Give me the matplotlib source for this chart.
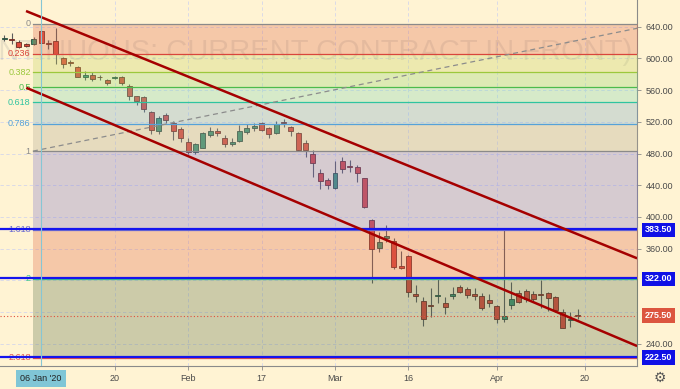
import matplotlib
matplotlib.use("Agg")
import matplotlib.pyplot as plt
import numpy as np

plt.rcParams['font.family'] = ['Liberation Sans', 'DejaVu Sans']

# daily bars, Dec 27 '19 .. Apr 17 '20 (bar index = trading day)
opens  = [624, 625, 621, 618, 618, 635, 619, 622, 601, 595, 589, 577, 579, 577, 573, 575, 576, 565, 552, 551,
          532, 508, 528, 519, 511, 495, 481.5, 487, 503, 509, 500, 492, 496, 507.5, 512, 518, 512, 506, 519.5, 513,
          505.5, 493.5, 480, 455, 446, 436, 470.5, 464, 462.5, 448.7, 396, 360.5, 373, 369, 338, 351, 303, 294, 289, 300,
          291, 300, 311, 309.5, 302.7, 300.6, 295, 287, 271, 288.5, 304.5, 306.5, 302.3, 302.3, 303.6, 299.3, 279.6, 269.5, 276.5]
highs  = [629, 632, 623, 620, 627, 637, 623, 638, 602, 598, 591, 584, 583, 579, 574, 578, 578, 568, 553, 553,
          534, 527, 531, 521, 513, 499, 493.5, 507.5, 514, 512, 503, 500, 516, 517, 518.5, 520, 514, 521, 523.5, 515,
          507.5, 497, 484, 460, 449, 470, 476, 472, 465.5, 449.5, 397, 381, 390, 373, 357.5, 352, 314, 298.5, 310, 324,
          299, 311, 314.5, 312, 310, 303.6, 302.3, 289, 383, 318, 308, 309, 307, 320, 305.6, 300.2, 283.4, 280.4, 283.5]
lows   = [622, 618, 613, 614, 617, 619, 612, 593, 588, 590, 576, 573, 572, 573, 567, 574, 567, 547, 541, 532,
          505, 505, 518, 497, 495, 480, 480, 486.5, 501, 502, 488.5, 489.5, 495, 504.5, 509, 509, 500, 504.5, 514, 502.5,
          483.5, 476, 451, 435, 435, 435, 455, 457, 444.5, 410.8, 316, 356, 368.7, 334, 334, 299, 293, 262, 274, 292,
          278, 296, 303.6, 298, 295, 282.5, 286.7, 266, 268, 283.5, 291, 293, 293, 284.7, 281.6, 280.4, 259.4, 260.7, 271]
closes = [626, 623, 615, 616, 625, 620, 618, 606, 593, 594, 577, 579, 574, 576, 569, 577, 569, 552, 546, 536,
          510, 525, 522, 508, 500, 482, 492, 505.5, 508, 505.5, 492, 494.5, 508, 512, 514.7, 510, 504, 517, 518.5, 508,
          485, 485, 467.5, 445, 440, 455, 460.5, 462.5, 455, 412, 359, 368, 376, 336.5, 336, 305.6, 300, 271, 287, 301,
          286, 303, 305.5, 302, 300, 284.7, 292, 271, 274.5, 296.5, 293, 296.5, 296.4, 301, 297.3, 282.5, 260, 271.5, 275.5]

# time axis
tick_bars   = [15, 25, 35, 45, 55, 67, 79]
tick_labels = ["20", "Feb", "17", "Mar", "16", "Apr", "20"]
cursor_bar = 5
cursor_label = "06 Jan '20"

# fib retracement 644 -> 483
fib_ratios = [0, 0.236, 0.382, 0.5, 0.618, 0.786, 1, 1.618, 2, 2.618]
fib_names  = ["0", "0.236", "0.382", "0.5", "0.618", "0.786", "1", "1.618", "2", "2.618"]
fib_top = 644.0
fib_bottom = 483.0
fib_levels = [fib_top - r * (fib_top - fib_bottom) for r in fib_ratios]
fib_line_colors = ['#8a8a8a', '#d9453c', '#9cc83c', '#4cbb4c', '#2fc4a0', '#55a2d8', '#8a8a8a', '#6a6ad0', '#3cc48c', '#e0504a']
fib_fill_colors = ['#de6747', '#c6d25e', '#8fd86e', '#7ad8b2', '#73aacc', '#afa690', '#7a71cc', '#de6747', '#58714a']

# horizontal lines + price tags
marked_prices = [383.5, 322.0, 222.5]
last_price = 275.5
axis_prices = [240, 360, 400, 440, 480, 520, 560, 600, 640]

# trend channel (bar, price)
upper_line = [(2.96, 659.8), (86.1, 347.8)]
lower_line = [(3.0, 563.0), (86.1, 237.1)]
base_line = [(3.9, 483.0), (86.1, 638.0)]

bg = '#fff3d3'
up_col, down_col = '#3f9471', '#dc4a3c'
up_edge, down_edge = '#284a3c', '#6a2a22'

fig = plt.figure(figsize=(6.8, 3.89), dpi=100)
fig.patch.set_facecolor(bg)
ax = fig.add_axes([0, 23 / 389, 637 / 680, 366 / 389])
ax.set_facecolor(bg)
ax.set_xlim(-0.58, 86.09)
ax.set_ylim(211.9, 673.7)

# grid
for t in tick_bars:
    ax.axvline(t, color='#d4d6ea', lw=0.6, ls=(0, (4, 3)), zorder=0)
for p in range(240, 680, 40):
    ax.axhline(p, color='#d4d6ea', lw=0.6, ls=(0, (4, 3)), zorder=0)

# watermark
ax.text(0.992, 0.858, "(CONTINUOUS: CURRENT CONTRACT IN FRONT)", transform=ax.transAxes,
        ha='right', va='center', fontsize=21, color='#909090', alpha=0.2, zorder=0.5)

# candles
x = np.arange(len(opens))
for i in x:
    o, h, l, c = opens[i], highs[i], lows[i], closes[i]
    up = c >= o
    ax.vlines(i, l, h, color='#5c5c5c', lw=0.8, zorder=2)
    ax.bar(i, max(abs(c - o), 1.0), bottom=min(o, c), width=0.68,
           color=up_col if up else down_col, edgecolor=up_edge if up else down_edge,
           linewidth=0.6, zorder=3)

# fib bands drawn over the candles (semi transparent)
fib_x0 = 3.9
for j in range(len(fib_levels) - 1):
    ax.fill_between([fib_x0, 90], fib_levels[j + 1], fib_levels[j],
                    color=fib_fill_colors[j], alpha=0.3, lw=0, zorder=4)
for j, lev in enumerate(fib_levels):
    ax.plot([fib_x0, 90], [lev, lev], color=fib_line_colors[j], lw=0.9, zorder=5)
    ax.text(fib_x0 - 0.3, lev, fib_names[j], ha='right', va='center',
            fontsize=6.5, color=fib_line_colors[j], zorder=5)

# dashed base line of the fib
ax.plot([base_line[0][0], base_line[1][0]], [base_line[0][1], base_line[1][1]],
        color='#8c8c8c', lw=0.9, ls=(0, (4, 3)), zorder=5)

# blue horizontal lines
for p in marked_prices:
    ax.axhline(p + 1.3, color='#1414ee', lw=1.6, zorder=6)

# last price line
ax.axhline(last_price, color='#e0503c', lw=0.8, ls=(0, (1, 2)), zorder=6)

# channel
for ln in (upper_line, lower_line):
    ax.plot([ln[0][0], ln[1][0]], [ln[0][1], ln[1][1]], color='#a50000', lw=1.8,
            solid_capstyle='butt', zorder=7)

# crosshair
ax.axvline(cursor_bar, color='#86c6d4', lw=0.8, zorder=8)

# axes look
for s in ('top', 'left'):
    ax.spines[s].set_visible(False)
ax.spines['bottom'].set_color('#8a8a8a')
ax.spines['right'].set_color('#8a8a8a')
ax.yaxis.tick_right()
ax.set_yticks(axis_prices)
ax.set_yticklabels(["%.2f" % p for p in axis_prices])
ax.set_xticks(tick_bars)
ax.set_xticklabels(tick_labels)
ax.tick_params(axis='both', length=3, width=0.6, color='#8a8a8a', labelsize=6.5,
               labelcolor='#4a4a4a', pad=3)

# price tags on the right axis
ytr = ax.get_yaxis_transform()
for p in marked_prices:
    ax.text(1.012, p, "%.2f" % p, transform=ytr, ha='left', va='center', fontsize=6.5,
            color='white', fontweight='bold', clip_on=False, zorder=10,
            bbox=dict(boxstyle='square,pad=0.3', fc='#1010e6', ec='none'))
ax.text(1.012, last_price, "%.2f" % last_price, transform=ytr, ha='left', va='center',
        fontsize=6.5, color='white', fontweight='bold', clip_on=False, zorder=10,
        bbox=dict(boxstyle='square,pad=0.3', fc='#dc553f', ec='none'))

# cursor date tag
ax.text(cursor_bar, -0.033, cursor_label, transform=ax.get_xaxis_transform(), ha='center',
        va='center', fontsize=6.5, color='#222222', clip_on=False, zorder=10,
        bbox=dict(boxstyle='square,pad=0.45', fc='#80c6d6', ec='none'))

fig.text(660 / 680, 1 - 378 / 389, '\u2699', fontsize=10, color='#555555',
         ha='center', va='center', family='DejaVu Sans')

plt.savefig('out.png', dpi=100, facecolor=bg)
